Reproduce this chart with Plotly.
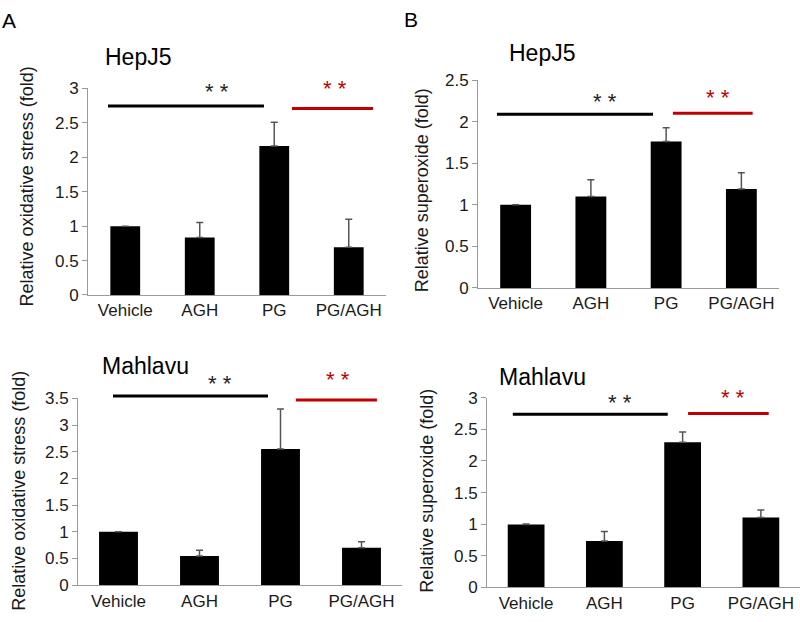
import plotly.graph_objects as go

categories = ["Vehicle", "AGH", "PG", "PG/AGH"]

# Panel A top: HepJ5 oxidative stress
hep_ox = [1.0, 0.835, 2.165, 0.695]
hep_ox_err = [0.0, 0.22, 0.345, 0.405]
# Panel B top: HepJ5 superoxide
hep_sup = [1.0, 1.10, 1.76, 1.19]
hep_sup_err = [0.0, 0.20, 0.165, 0.195]
# Panel A bottom: Mahlavu oxidative stress
mah_ox = [1.0, 0.545, 2.55, 0.70]
mah_ox_err = [0.0, 0.11, 0.75, 0.115]
# Panel B bottom: Mahlavu superoxide
mah_sup = [0.995, 0.735, 2.295, 1.105]
mah_sup_err = [0.01, 0.15, 0.165, 0.12]

yticks_ox_top = [0, 0.5, 1, 1.5, 2, 2.5, 3]
yticks_sup_top = [0, 0.5, 1, 1.5, 2, 2.5]
yticks_ox_bot = [0, 0.5, 1, 1.5, 2, 2.5, 3, 3.5]
yticks_sup_bot = [0, 0.5, 1, 1.5, 2, 2.5, 3]

FONT = "Liberation Sans, Arial, sans-serif"
AX = "#9a9a9a"
RED = "#c00000"

W, H = 800, 622


def px(x):
    return x / W


def py(y):
    return 1 - y / H


panels = [
    dict(v=hep_ox, e=hep_ox_err, ticks=yticks_ox_top, xd=(88, 386), yd=(295, 82), w=0.40,
         title="HepJ5", title_xy=(103, 50), ylab="Relative oxidative stress (fold)", ylab_xy=(27, 183),
         black=(-0.232, 1.862, 2.746), red=(2.238, 3.326, 2.71), bstar=(1.23, 3.03), rstar=(2.815, 3.07)),
    dict(v=hep_sup, e=hep_sup_err, ticks=yticks_sup_top, xd=(478, 779), yd=(287.7, 73.3), w=0.41,
         title="HepJ5", title_xy=(507, 45), ylab="Relative superoxide (fold)", ylab_xy=(422, 187),
         black=(-0.248, 1.826, 2.09), red=(2.09, 3.15, 2.10), bstar=(1.19, 2.30), rstar=(2.69, 2.35)),
    dict(v=mah_ox, e=mah_ox_err, ticks=yticks_ox_bot, xd=(78, 402), yd=(594.3, 401.7), w=0.48,
         title="Mahlavu", title_xy=(100, 368), ylab="Relative oxidative stress (fold)", ylab_xy=(19, 497),
         black=(-0.068, 1.846, 3.545), red=(2.19, 3.19, 3.47), bstar=(1.25, 3.87), rstar=(2.71, 3.95)),
    dict(v=mah_sup, e=mah_sup_err, ticks=yticks_sup_bot, xd=(487, 800), yd=(596.7, 401), w=0.47,
         title="Mahlavu", title_xy=(497, 380), ylab="Relative superoxide (fold)", ylab_xy=(427, 497),
         black=(-0.17, 1.81, 2.74), red=(2.07, 3.10, 2.75), bstar=(1.20, 3.01), rstar=(2.64, 3.08)),
]

fig = go.Figure()
shapes = []
annotations = []

for i, p in enumerate(panels, start=1):
    xa = "x" if i == 1 else f"x{i}"
    ya = "y" if i == 1 else f"y{i}"
    fig.add_trace(go.Bar(
        x=categories, y=p["v"], xaxis=xa, yaxis=ya, width=p["w"],
        marker=dict(color="black", line=dict(width=0)),
        error_y=dict(type="data", array=p["e"], arrayminus=[0] * 4, symmetric=False,
                     color="#555555", thickness=1.5, width=3.5),
        showlegend=False, hoverinfo="x+y",
    ))
    ymax = p["ticks"][-1]
    xdom = [px(p["xd"][0]), min(1.0, px(p["xd"][1]))]
    ydom = [py(p["yd"][0]), py(p["yd"][1])]
    xkey = "xaxis" if i == 1 else f"xaxis{i}"
    ykey = "yaxis" if i == 1 else f"yaxis{i}"
    fig.update_layout({
        xkey: dict(domain=xdom, anchor=ya, type="category", categoryorder="array",
                   categoryarray=categories, range=[-0.5, 3.5], showline=True, linecolor=AX,
                   linewidth=1, ticks="", showgrid=False, zeroline=False,
                   tickfont=dict(family=FONT, size=17, color="#1a1a1a")),
        ykey: dict(domain=ydom, anchor=xa, range=[0, ymax], tickvals=p["ticks"],
                   ticktext=[f"{t:g}" for t in p["ticks"]], showline=True, linecolor=AX,
                   linewidth=1, ticks="outside", ticklen=5, tickcolor=AX, showgrid=False,
                   zeroline=False, tickfont=dict(family=FONT, size=17, color="#1a1a1a")),
    })

    def ypaper(v, d=ydom, ymax=ymax):
        return d[0] + v / ymax * (d[1] - d[0])

    for (x0, x1, yv), col in ((p["black"], "black"), (p["red"], RED)):
        shapes.append(dict(type="line", xref=xa, yref="paper", x0=x0, x1=x1,
                           y0=ypaper(yv), y1=ypaper(yv), line=dict(color=col, width=3)))
    for (sx, sy), col in ((p["bstar"], "#222222"), (p["rstar"], RED)):
        annotations.append(dict(text="* *", xref=xa, yref="paper", x=sx, y=ypaper(sy),
                                showarrow=False, font=dict(family=FONT, size=22, color=col),
                                xanchor="center", yanchor="middle", yshift=-5))
    tx, ty = p["title_xy"]
    annotations.append(dict(text=p["title"], xref="paper", yref="paper", x=px(tx), y=py(ty),
                            xanchor="left", yanchor="middle", showarrow=False,
                            font=dict(family=FONT, size=23, color="black")))
    lx, ly = p["ylab_xy"]
    annotations.append(dict(text=p["ylab"], xref="paper", yref="paper", x=px(lx), y=py(ly),
                            xanchor="center", yanchor="middle", textangle=-90, showarrow=False,
                            font=dict(family=FONT, size=18, color="#1a1a1a")))

for letter, (lx, ly) in (("A", (0, 12)), ("B", (402, 11))):
    annotations.append(dict(text=letter, xref="paper", yref="paper", x=px(lx), y=py(ly),
                            xanchor="left", yanchor="middle", showarrow=False,
                            font=dict(family=FONT, size=21, color="black")))

fig.update_layout(
    width=W, height=H, margin=dict(l=0, r=0, t=0, b=0),
    plot_bgcolor="white", paper_bgcolor="white",
    shapes=shapes, annotations=annotations, bargap=0.5,
)

fig.write_html(
    "out.html",
    config={"displayModeBar": False},
    post_script="document.body.style.margin='0';document.documentElement.style.overflow='hidden';",
)
